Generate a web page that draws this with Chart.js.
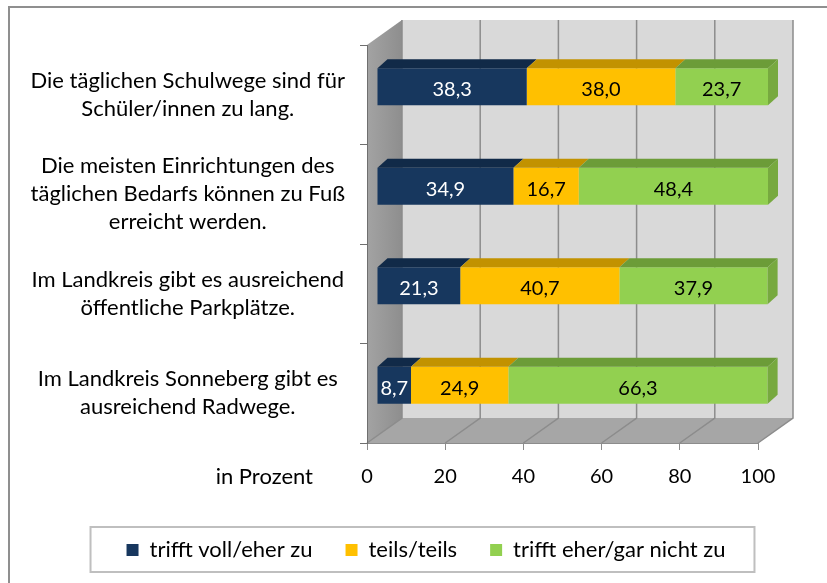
<!DOCTYPE html>
<html>
<head>
<meta charset="utf-8">
<script src="https://cdn.jsdelivr.net/npm/chart.js@4"></script>
<style>
  html, body { margin: 0; padding: 0; background: #fff; }
  canvas { display: block; }
</style>
</head>
<body>
<canvas id="chart" width="827" height="583"></canvas>
<script>
// Daten
const categories = [
  ["Die täglichen Schulwege sind für", "Schüler/innen zu lang."],
  ["Die meisten Einrichtungen des", "täglichen Bedarfs können zu Fuß", "erreicht werden."],
  ["Im Landkreis gibt es ausreichend", "öffentliche Parkplätze."],
  ["Im Landkreis Sonneberg gibt es", "ausreichend Radwege."]
];
const seriesNames  = ["trifft voll/eher zu", "teils/teils", "trifft eher/gar nicht zu"];
const vollEherZu   = [38.3, 34.9, 21.3, 8.7];
const teilsTeils   = [38.0, 16.7, 40.7, 24.9];
const eherGarNicht = [23.7, 48.4, 37.9, 66.3];
const xTicks       = [0, 20, 40, 60, 80, 100];
const axisTitle    = "in Prozent";

// Farben: Vorderseite / Oberseite
const frontColors = ["#17375e", "#ffc000", "#92d050"];
const topColors   = ["#112a48", "#c29200", "#6c9c38"];
const sideColor   = "#77a93f";
const labelColors = ["#ffffff", "#000000", "#000000"];

// Tiefe der Wände und Balken
const WALL_DX = 35, WALL_DY = -25;
const BAR_DX  = 10, BAR_DY  = -8;
const FACE_DX = 10, FACE_DY = -9;
const LEGEND_CENTER = 426;

const FONT = "Lato, 'Open Sans', sans-serif";
Chart.defaults.font.family = FONT;
Chart.defaults.color = "#000";

const fmt = v => v.toFixed(1).replace(".", ",");

// Hintergrund, Rahmen, Wände und Boden
const walls3d = {
  id: "walls3d",
  afterLayout(chart) {
    // Legende wie im Original etwas nach rechts rücken
    const lg = chart.legend;
    const shift = LEGEND_CENTER - (lg.left + lg.right) / 2;
    lg.left += shift;
    lg.right += shift;
  },
  beforeDraw(chart) {
    const { ctx, chartArea: a, scales: { x } } = chart;
    ctx.save();
    ctx.fillStyle = "#fff";
    ctx.fillRect(0, 0, chart.width, chart.height);

    ctx.strokeStyle = "#8f8f8f";
    ctx.lineWidth = 2;
    ctx.strokeRect(9, 7, chart.width + 20, chart.height + 20);

    // Rückwand
    ctx.fillStyle = "#d9d9d9";
    ctx.fillRect(a.left + WALL_DX, a.top + WALL_DY, a.right - a.left, a.bottom - a.top);

    // linke Wand
    const lg = ctx.createLinearGradient(a.left, 0, a.left + WALL_DX, 0);
    lg.addColorStop(0, "#a3a3a3");
    lg.addColorStop(1, "#8e8e8e");
    ctx.fillStyle = lg;
    ctx.beginPath();
    ctx.moveTo(a.left, a.bottom);
    ctx.lineTo(a.left, a.top);
    ctx.lineTo(a.left + WALL_DX, a.top + WALL_DY);
    ctx.lineTo(a.left + WALL_DX, a.bottom + WALL_DY);
    ctx.closePath();
    ctx.fill();

    // Boden
    ctx.fillStyle = "#a6a6a6";
    ctx.beginPath();
    ctx.moveTo(a.left, a.bottom);
    ctx.lineTo(a.right, a.bottom);
    ctx.lineTo(a.right + WALL_DX, a.bottom + WALL_DY);
    ctx.lineTo(a.left + WALL_DX, a.bottom + WALL_DY);
    ctx.closePath();
    ctx.fill();

    // Gitterlinien
    ctx.strokeStyle = "#8c8c8c";
    ctx.lineWidth = 1.5;
    xTicks.forEach(v => {
      const px = x.getPixelForValue(v);
      ctx.beginPath();
      ctx.moveTo(px + WALL_DX, a.top + WALL_DY);
      ctx.lineTo(px + WALL_DX, a.bottom + WALL_DY);
      ctx.lineTo(px, a.bottom);
      ctx.stroke();
    });
    ctx.restore();
  },
  beforeDatasetsDraw(chart) {
    chart.ctx.save();
    chart.ctx.translate(BAR_DX, BAR_DY);
  },
  afterDatasetsDraw(chart) {
    const ctx = chart.ctx;
    const last = chart.data.datasets.length - 1;
    chart.data.datasets.forEach((ds, di) => {
      chart.getDatasetMeta(di).data.forEach(bar => {
        const { x, y, base, height } = bar.getProps(["x", "y", "base", "height"], true);
        const t = y - height / 2, b = y + height / 2;
        ctx.fillStyle = topColors[di];
        ctx.beginPath();
        ctx.moveTo(base, t);
        ctx.lineTo(x, t);
        ctx.lineTo(x + FACE_DX, t + FACE_DY);
        ctx.lineTo(base + FACE_DX, t + FACE_DY);
        ctx.closePath();
        ctx.fill();
        if (di === last) {
          ctx.fillStyle = sideColor;
          ctx.beginPath();
          ctx.moveTo(x, t);
          ctx.lineTo(x + FACE_DX, t + FACE_DY);
          ctx.lineTo(x + FACE_DX, b + FACE_DY);
          ctx.lineTo(x, b);
          ctx.closePath();
          ctx.fill();
        }
      });
    });

    // Datenbeschriftungen
    ctx.font = "20px " + FONT;
    ctx.textAlign = "center";
    ctx.textBaseline = "middle";
    chart.data.datasets.forEach((ds, di) => {
      chart.getDatasetMeta(di).data.forEach((bar, i) => {
        const { x, y, base } = bar.getProps(["x", "y", "base"], true);
        ctx.fillStyle = labelColors[di];
        ctx.fillText(fmt(ds.data[i]), (x + base) / 2, y + 3);
      });
    });
    ctx.restore();
  },
  afterDraw(chart) {
    const { ctx, chartArea: a } = chart;
    ctx.save();
    // Achsentitel
    ctx.font = "22px " + FONT;
    ctx.fillStyle = "#000";
    ctx.textAlign = "right";
    ctx.textBaseline = "middle";
    ctx.fillText(axisTitle, 313, a.bottom + 34);

    // Rahmen um die Legende
    const hb = chart.legend.legendHitBoxes;
    if (hb.length) {
      const first = hb[0], lastHb = hb[hb.length - 1];
      const l = first.left - 36;
      const r = lastHb.left + lastHb.width + 29;
      const t = first.top - 12;
      ctx.strokeStyle = "#bfbfbf";
      ctx.lineWidth = 2;
      ctx.strokeRect(l, t, r - l, 45);
    }
    ctx.restore();
  }
};

new Chart(document.getElementById("chart"), {
  type: "bar",
  data: {
    labels: categories,
    datasets: [
      { label: seriesNames[0], data: vollEherZu,   backgroundColor: frontColors[0] },
      { label: seriesNames[1], data: teilsTeils,   backgroundColor: frontColors[1] },
      { label: seriesNames[2], data: eherGarNicht, backgroundColor: frontColors[2] }
    ]
  },
  options: {
    indexAxis: "y",
    responsive: false,
    animation: false,
    devicePixelRatio: 1,
    datasets: { bar: { barPercentage: 0.37, categoryPercentage: 1, borderWidth: 0 } },
    layout: { padding: { left: 10, right: 69, top: 45, bottom: 12 } },
    scales: {
      x: {
        stacked: true,
        min: 0,
        max: 100,
        afterFit: s => { s.height = 63; },
        ticks: { stepSize: 20, padding: 15, font: { size: 20 }, color: "#000" },
        grid: { drawOnChartArea: false, drawTicks: true, tickLength: 7, color: "#8c8c8c" },
        border: { display: true, color: "#8c8c8c" }
      },
      y: {
        stacked: true,
        afterFit: s => { s.width = 357; },
        ticks: { autoSkip: false, crossAlign: "center", padding: 15, font: { size: 22, lineHeight: 1.27 }, color: "#000" },
        grid: { drawOnChartArea: false, drawTicks: true, tickLength: 7, color: "#6f6f6f" },
        border: { display: true, color: "#6f6f6f" }
      }
    },
    plugins: {
      legend: {
        position: "bottom",
        labels: { boxWidth: 12, boxHeight: 12, padding: 33, font: { size: 22 }, color: "#000" }
      },
      tooltip: { enabled: false }
    }
  },
  plugins: [walls3d]
});
</script>
</body>
</html>
